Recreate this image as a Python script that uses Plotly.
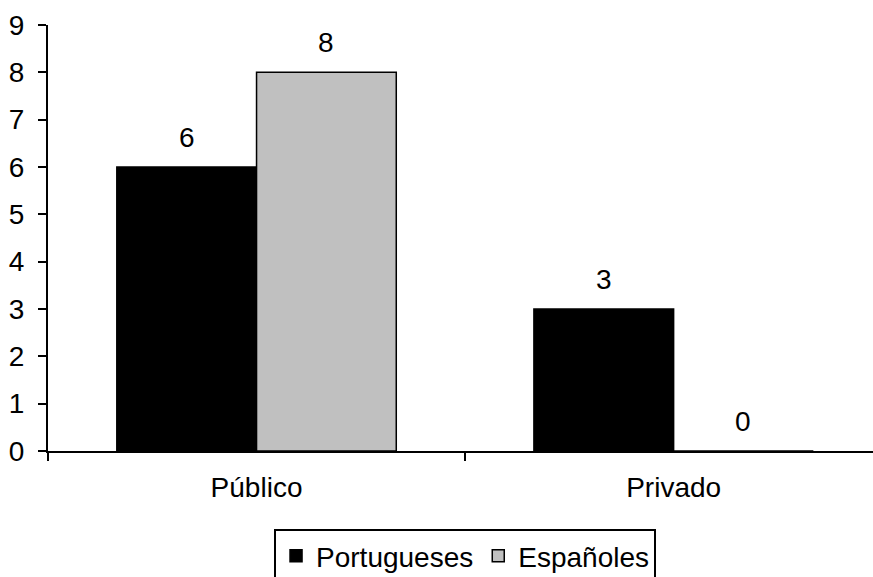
import plotly.graph_objects as go

categories = ["Público", "Privado"]
series_names = ["Portugueses", "Españoles"]
portugueses = [6, 3]
espanoles = [8, 0]
y_ticks = list(range(0, 10))

colors = ["#000000", "#C0C0C0"]
FONT = "Liberation Sans, Arial, sans-serif"
FS = 28

fig = go.Figure()
for name, vals, col in zip(series_names, [portugueses, espanoles], colors):
    fig.add_trace(go.Bar(
        x=categories, y=vals, name=name,
        marker=dict(color=col, line=dict(color="#000000", width=1.5)),
    ))

# value labels above bars
W, H = 873, 577
ml, mr, mt, mb = 48, 0, 25, 126
plot_w = W - ml - mr
xr = [-0.5, 1.478]
px_per_cat = plot_w / (xr[1] - xr[0])
bargap = 0.33
bar_w = px_per_cat * (1 - bargap) / 2
for si, vals in enumerate([portugueses, espanoles]):
    shift = (si - 0.5) * bar_w
    for cat, v in zip(categories, vals):
        fig.add_annotation(x=cat, y=v, xref="x", yref="y", text=str(v),
                           showarrow=False, xshift=shift, yshift=12,
                           yanchor="bottom",
                           font=dict(family=FONT, size=FS, color="#000000"))

fig.update_layout(
    width=W, height=H,
    margin=dict(l=ml, r=mr, t=mt, b=mb, autoexpand=False),
    paper_bgcolor="white", plot_bgcolor="white",
    barmode="group", bargap=bargap, bargroupgap=0,
    font=dict(family=FONT, size=FS, color="#000000"),
    showlegend=True,
    legend=dict(orientation="h", x=0.5055, xanchor="center", y=-0.183, yanchor="top",
                bordercolor="#000000", borderwidth=2, font=dict(size=FS),
                itemwidth=30, tracegroupgap=0),
)
fig.update_xaxes(range=xr, showline=True, linecolor="#000000", linewidth=2,
                 ticks="outside", tickson="boundaries", ticklen=8, tickwidth=2,
                 tickcolor="#000000", showgrid=False, zeroline=False,
                 ticklabelstandoff=10, tickfont=dict(size=FS))
fig.update_yaxes(range=[0, 9], tickvals=y_ticks, showline=True, linecolor="#000000",
                 linewidth=2, ticks="outside", ticklen=8, tickwidth=2,
                 tickcolor="#000000", showgrid=False, zeroline=False,
                 ticklabelstandoff=8, tickfont=dict(size=FS))

fig.write_html("out.html", config={"displayModeBar": False},
               post_script="document.body.style.margin='0';")
